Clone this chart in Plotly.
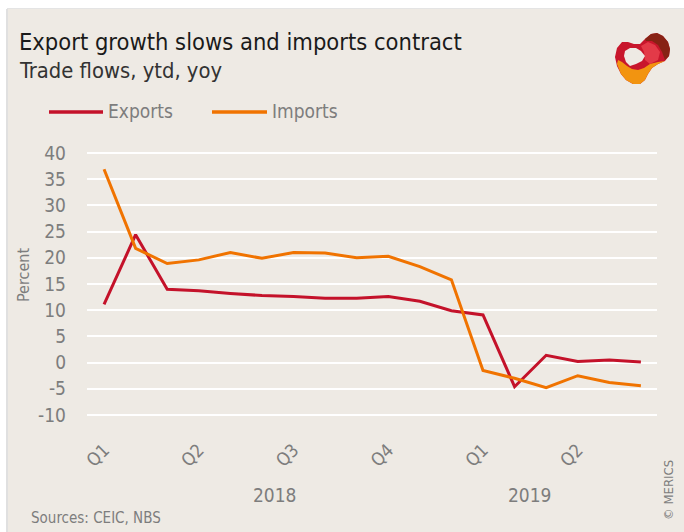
import plotly.graph_objects as go

# ---- data ----
idx = list(range(18))  # monthly, Jan 2018 .. Jun 2019 (ytd)
exports = [11.1, 24.4, 14.0, 13.7, 13.2, 12.8, 12.6, 12.3, 12.3, 12.6, 11.7, 9.9,
           9.1, -4.6, 1.4, 0.2, 0.5, 0.1]
imports = [36.9, 21.8, 18.9, 19.6, 21.0, 19.9, 21.0, 20.9, 20.0, 20.3, 18.3, 15.8,
           -1.5, -3.0, -4.8, -2.5, -3.8, -4.4]
tick_pos = [0, 3, 6, 9, 12, 15]
tick_labels = ["Q1", "Q2", "Q3", "Q4", "Q1", "Q2"]
year_labels = ["2018", "2019"]
year_pos = [5.4, 13.5]
y_ticks = [40, 35, 30, 25, 20, 15, 10, 5, 0, -5, -10]
y_tick_text = ["40", "35", "30", "25", "20", "15", "10", "5", "0", "-5", "-10"]

W, H = 684, 532
L, R, T, B = 87, 27, 140, 107
PW, PH = W - L - R, H - T - B

def px(x):
    return (x - L) / PW

def py(y):
    return (H - B - y) / PH

BG = "#EEEAE4"
GRAY = "#7d7d7d"
RED = "#C4122A"
ORANGE = "#F07300"
FONT = "DejaVu Sans Condensed, Liberation Sans Narrow, sans-serif"

fig = go.Figure()
fig.add_trace(go.Scatter(x=idx, y=exports, mode="lines", name="Exports",
                         line=dict(color=RED, width=3), showlegend=False))
fig.add_trace(go.Scatter(x=idx, y=imports, mode="lines", name="Imports",
                         line=dict(color=ORANGE, width=3), showlegend=False))

shapes = []
# beige panel and borders
shapes.append(dict(type="rect", xref="paper", yref="paper", layer="below",
                   x0=px(8), x1=px(684), y0=py(9), y1=py(532),
                   fillcolor=BG, line=dict(width=0)))
shapes.append(dict(type="line", xref="paper", yref="paper", layer="below",
                   x0=px(7), x1=px(7), y0=py(9), y1=py(532),
                   line=dict(color="#d6d6d6", width=1.5)))
shapes.append(dict(type="line", xref="paper", yref="paper", layer="below",
                   x0=px(7), x1=px(684), y0=py(8.5), y1=py(8.5),
                   line=dict(color="#e4e4e4", width=1)))

# legend lines
for x0, x1, c in [(49, 103, RED), (212, 267, ORANGE)]:
    shapes.append(dict(type="line", xref="paper", yref="paper",
                       x0=px(x0), x1=px(x1), y0=py(112), y1=py(112),
                       line=dict(color=c, width=3.5)))

# logo (approximate polygon ribbon)
def poly(pts):
    s = "M " + " L ".join("{:.4f},{:.4f}".format(px(x), py(y)) for x, y in pts)
    return s + " Z"

outer = [(617, 48), (622, 42), (628, 42), (634, 44), (640, 44), (645, 39), (651, 34),
         (657, 33), (663, 36), (668, 42), (670, 49), (669, 56), (665, 61), (658, 64),
         (652, 68), (648, 74), (645, 80), (640, 84), (633, 84), (626, 80), (621, 74),
         (617, 66), (615, 57)]
mid = [(641, 46), (648, 42), (655, 45), (660, 52), (658, 60), (650, 64), (645, 60),
       (644, 52)]
orange = [(617, 64), (621, 74), (626, 80), (633, 84), (640, 84), (645, 80), (648, 74),
          (652, 68), (658, 64), (665, 61), (658, 62), (650, 64), (644, 68), (638, 70),
          (632, 69), (627, 66), (622, 62), (618, 60)]
dark = [(645, 39), (651, 34), (657, 33), (663, 36), (668, 42), (670, 49), (669, 56),
        (665, 60), (662, 52), (658, 45), (652, 41), (646, 41)]
hole = [(625, 51), (630, 48), (636, 48), (641, 51), (645, 56), (642, 61), (636, 64),
        (630, 66), (626, 62), (624, 56)]
for pts, col, op in [(outer, "#C8162C", 1), (mid, "#E33A48", 1), (orange, "#F29410", 1),
                     (dark, "#7B2410", 0.85), (hole, BG, 1)]:
    shapes.append(dict(type="path", xref="paper", yref="paper", path=poly(pts),
                       fillcolor=col, line=dict(width=0), opacity=op))

ann = []
ann.append(dict(text="Export growth slows and imports contract", x=px(17), y=py(42),
                xanchor="left", yanchor="middle", showarrow=False,
                font=dict(family=FONT, size=23.5, color="#1a1a1a")))
ann.append(dict(text="Trade flows, ytd, yoy", x=px(17), y=py(71),
                xanchor="left", yanchor="middle", showarrow=False,
                font=dict(family=FONT, size=21.8, color="#333333")))
ann.append(dict(text="Exports", x=px(106), y=py(111), xanchor="left", yanchor="middle",
                showarrow=False, font=dict(family=FONT, size=19, color=GRAY)))
ann.append(dict(text="Imports", x=px(270), y=py(111), xanchor="left", yanchor="middle",
                showarrow=False, font=dict(family=FONT, size=19, color=GRAY)))
ann.append(dict(text="Percent", x=px(23), y=py(275), xanchor="center", yanchor="middle",
                textangle=-90, showarrow=False, font=dict(family=FONT, size=16, color=GRAY)))
for lab, xp in zip(year_labels, year_pos):
    ann.append(dict(text=lab, x=xp, xref="x", y=py(495), yref="paper",
                    xanchor="center", yanchor="middle", showarrow=False,
                    font=dict(family=FONT, size=19, color=GRAY)))
ann.append(dict(text="Sources: CEIC, NBS", x=px(29), y=py(518), xanchor="left",
                yanchor="middle", showarrow=False, font=dict(family=FONT, size=15, color=GRAY)))
ann.append(dict(text="© MERICS", x=px(668), y=py(490), xanchor="center", yanchor="middle",
                textangle=-90, showarrow=False, font=dict(family=FONT, size=13, color=GRAY)))
for a in ann:
    a.setdefault("xref", "paper")
    a.setdefault("yref", "paper")

fig.update_layout(
    width=W, height=H,
    margin=dict(l=L, r=R, t=T, b=B, autoexpand=False),
    paper_bgcolor="white", plot_bgcolor=BG,
    shapes=shapes, annotations=ann, showlegend=False,
    font=dict(family=FONT, color=GRAY),
)
fig.update_xaxes(range=[-0.54, 17.51], tickmode="array", tickvals=tick_pos,
                 ticktext=tick_labels, tickangle=-45, showgrid=False, zeroline=False,
                 showline=False, ticks="", ticklabelstandoff=10,
                 tickfont=dict(family=FONT, size=18, color=GRAY))
fig.update_yaxes(range=[-11.91, 42.48], tickmode="array", tickvals=y_ticks,
                 ticktext=y_tick_text,
                 showgrid=True, gridcolor="white", gridwidth=2, zeroline=False,
                 showline=False, ticks="", ticklabelstandoff=20,
                 tickfont=dict(family=FONT, size=19, color=GRAY))

fig.write_html("out.html")
